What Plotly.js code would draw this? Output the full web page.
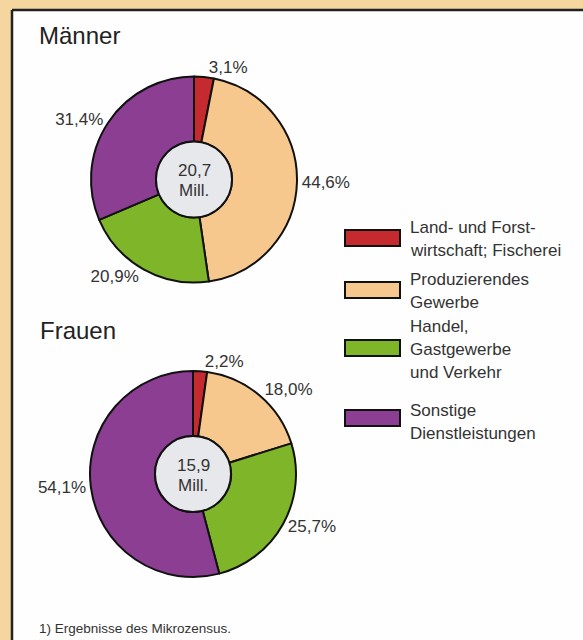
<!DOCTYPE html>
<html>
<head>
<meta charset="utf-8">
<script src="https://cdn.plot.ly/plotly-3.0.1.min.js"></script>
<style>html,body{margin:0;padding:0;background:#f4d69e;}#chart{width:583px;height:640px;}</style>
</head>
<body>
<div id="chart"></div>
<script>
const categories = ["Land- und Forst-<br>wirtschaft; Fischerei", "Produzierendes<br>Gewerbe", "Handel,<br>Gastgewerbe<br>und Verkehr", "Sonstige<br>Dienstleistungen"];
const groups = ["Männer", "Frauen"];
const maenner = [3.1, 44.6, 20.9, 31.4];
const frauen = [2.2, 18.0, 25.7, 54.1];
const totals = [20.7, 15.9];
const colors = ["#c42a2e", "#f7c88e", "#7fb528", "#8b3e92"];
const footnote = "1) Ergebnisse des Mikrozensus.";

const W = 583, H = 640;
const px = x => x / W;
const py = y => 1 - y / H;
const R = 103, HOLE_R = 38;
const centers = [[194, 179.5], [193, 474]];
const font = "Liberation Sans, Arial, sans-serif";

const series = [maenner, frauen];
const traces = series.map((vals, i) => {
  const [cx, cy] = centers[i];
  return {
    type: "pie",
    values: vals,
    labels: categories,
    sort: false,
    direction: "clockwise",
    rotation: 0,
    hole: HOLE_R / R,
    marker: {colors: colors, line: {color: "#111", width: 2}},
    textposition: "outside",
    texttemplate: "%{value:.1f}%",
    textfont: {family: font, size: 17, color: "#333"},
    domain: {x: [px(cx - R), px(cx + R)], y: [py(cy + R), py(cy - R)]},
    showlegend: false,
    hoverinfo: "label+percent"
  };
});

const shapes = [
  {type: "rect", xref: "paper", yref: "paper", x0: px(12), x1: px(600), y0: py(700), y1: py(10),
   fillcolor: "#fefefe", line: {width: 0}, layer: "below"},
  {type: "line", xref: "paper", yref: "paper", x0: px(12), x1: px(583), y0: py(10), y1: py(10),
   line: {color: "#222", width: 2.5}, layer: "below"},
  {type: "line", xref: "paper", yref: "paper", x0: px(12), x1: px(12), y0: py(10), y1: py(640),
   line: {color: "#222", width: 2.5}, layer: "below"}
];
const annotations = [];

centers.forEach(([cx, cy], i) => {
  shapes.push({type: "circle", xref: "paper", yref: "paper",
    x0: px(cx - HOLE_R), x1: px(cx + HOLE_R), y0: py(cy + HOLE_R), y1: py(cy - HOLE_R),
    fillcolor: "#e7e8ec", line: {color: "#111", width: 2}});
  const lines = [totals[i].toFixed(1).replace(".", ","), "Mill."];
  lines.forEach((t, k) => {
    annotations.push({xref: "paper", yref: "paper", x: px(cx), y: py(cy - 9 + k * 20),
      xanchor: "center", yanchor: "middle", showarrow: false, text: t,
      font: {family: font, size: 17, color: "#333"}});
  });
});

[[37, 35], [38, 330]].forEach(([x, y], i) => {
  annotations.push({xref: "paper", yref: "paper", x: px(x), y: py(y), xanchor: "left", yanchor: "middle",
    showarrow: false, text: groups[i], font: {family: font, size: 24, color: "#222"}});
});

const legendRect = [238, 290, 348, 418];
const legendText = [227, 279, 326, 410];
categories.forEach((c, i) => {
  shapes.push({type: "rect", xref: "paper", yref: "paper", x0: px(345), x1: px(400),
    y0: py(legendRect[i] + 8), y1: py(legendRect[i] - 8), fillcolor: colors[i], line: {color: "#111", width: 2}});
  c.split("<br>").forEach((t, k) => {
    annotations.push({xref: "paper", yref: "paper", x: px(408), y: py(legendText[i] + k * 23),
      xanchor: "left", yanchor: "middle", showarrow: false, text: t,
      font: {family: font, size: 17, color: "#333"}});
  });
});

annotations.push({xref: "paper", yref: "paper", x: px(37), y: py(628), xanchor: "left", yanchor: "middle",
  showarrow: false, text: footnote, font: {family: font, size: 13.5, color: "#333"}});

const layout = {
  width: W, height: H,
  margin: {l: 0, r: 0, t: 0, b: 0},
  paper_bgcolor: "#f4d69e",
  separators: ",.",
  shapes: shapes,
  annotations: annotations,
  showlegend: false
};

Plotly.newPlot("chart", traces, layout, {displayModeBar: false, staticPlot: true});
</script>
</body>
</html>
